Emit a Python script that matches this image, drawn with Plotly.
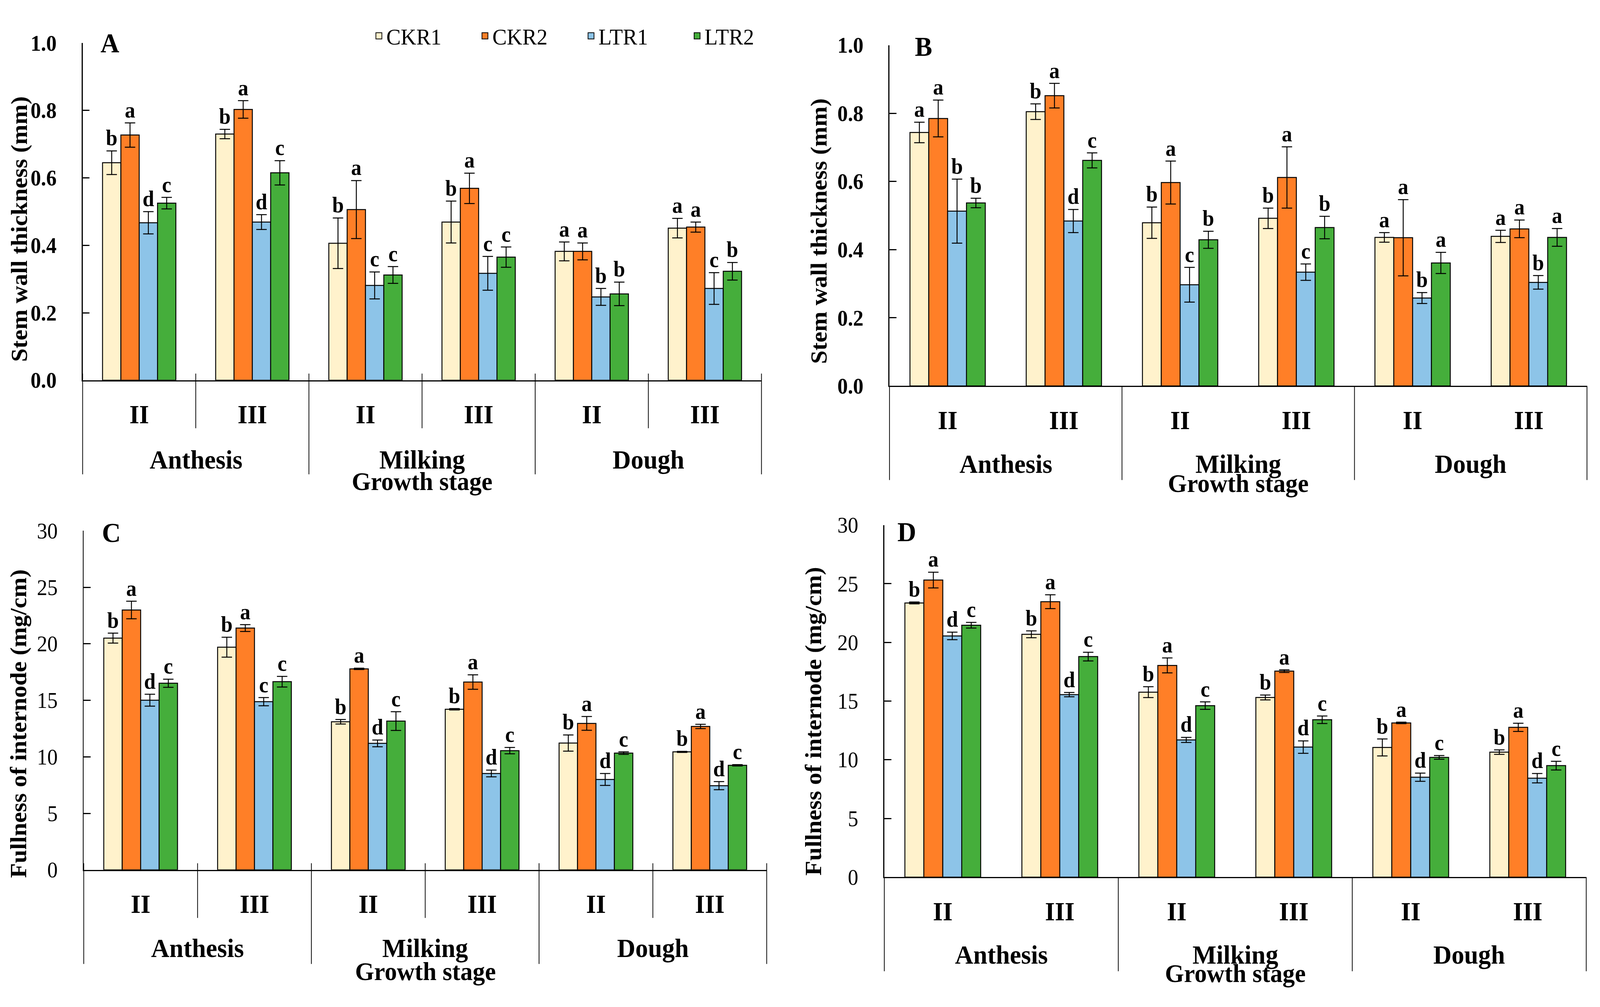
import plotly.graph_objects as go
from plotly.subplots import make_subplots

# ---- data -------------------------------------------------------------
stages = ["Anthesis", "Milking", "Dough"]
internodes = ["II", "III"]
categories = [f"{s} {i}" for s in stages for i in internodes]
tick_text = [i for s in stages for i in internodes]
treatments = ["CKR1", "CKR2", "LTR1", "LTR2"]

# A: stem wall thickness (mm)
a_mean = {
    "CKR1": [0.645, 0.730, 0.406, 0.469, 0.382, 0.451],
    "CKR2": [0.727, 0.803, 0.506, 0.569, 0.382, 0.454],
    "LTR1": [0.467, 0.469, 0.281, 0.317, 0.247, 0.272],
    "LTR2": [0.525, 0.615, 0.312, 0.365, 0.256, 0.323],
}
a_err = {
    "CKR1": [0.035, 0.014, 0.075, 0.062, 0.028, 0.029],
    "CKR2": [0.036, 0.026, 0.086, 0.045, 0.025, 0.015],
    "LTR1": [0.033, 0.022, 0.040, 0.050, 0.025, 0.047],
    "LTR2": [0.017, 0.036, 0.025, 0.030, 0.035, 0.026],
}
a_letters = {
    "CKR1": ["b", "b", "b", "b", "a", "a"],
    "CKR2": ["a", "a", "a", "a", "a", "a"],
    "LTR1": ["d", "d", "c", "c", "b", "c"],
    "LTR2": ["c", "c", "c", "c", "b", "b"],
}

# B: stem wall thickness (mm)
b_mean = {
    "CKR1": [0.744, 0.805, 0.479, 0.492, 0.436, 0.439],
    "CKR2": [0.785, 0.852, 0.597, 0.612, 0.435, 0.461],
    "LTR1": [0.513, 0.484, 0.297, 0.334, 0.258, 0.304],
    "LTR2": [0.537, 0.662, 0.429, 0.465, 0.361, 0.436],
}
b_err = {
    "CKR1": [0.030, 0.023, 0.046, 0.030, 0.014, 0.018],
    "CKR2": [0.054, 0.036, 0.063, 0.090, 0.112, 0.026],
    "LTR1": [0.094, 0.034, 0.051, 0.024, 0.016, 0.020],
    "LTR2": [0.014, 0.022, 0.025, 0.033, 0.031, 0.026],
}
b_letters = {
    "CKR1": ["a", "b", "b", "b", "a", "a"],
    "CKR2": ["a", "a", "a", "a", "a", "a"],
    "LTR1": ["b", "d", "c", "c", "b", "b"],
    "LTR2": ["b", "c", "b", "b", "a", "a"],
}

# C: fullness of internode (mg/cm)
c_mean = {
    "CKR1": [20.50, 19.70, 13.10, 14.21, 11.22, 10.44],
    "CKR2": [22.99, 21.39, 17.78, 16.62, 12.96, 12.69],
    "LTR1": [15.01, 14.88, 11.19, 8.53, 8.00, 7.45],
    "LTR2": [16.51, 16.65, 13.16, 10.55, 10.33, 9.25],
}
c_err = {
    "CKR1": [0.44, 0.88, 0.20, 0.06, 0.72, 0.05],
    "CKR2": [0.78, 0.30, 0.06, 0.64, 0.61, 0.19],
    "LTR1": [0.53, 0.36, 0.30, 0.30, 0.53, 0.36],
    "LTR2": [0.36, 0.47, 0.83, 0.28, 0.11, 0.06],
}
c_letters = {
    "CKR1": ["b", "b", "b", "b", "b", "b"],
    "CKR2": ["a", "a", "a", "a", "a", "a"],
    "LTR1": ["d", "c", "d", "d", "d", "d"],
    "LTR2": ["c", "c", "c", "c", "c", "c"],
}

# D: fullness of internode (mg/cm)
d_mean = {
    "CKR1": [23.36, 20.69, 15.76, 15.31, 11.05, 10.65],
    "CKR2": [25.31, 23.47, 18.04, 17.55, 13.14, 12.76],
    "LTR1": [20.55, 15.55, 11.69, 11.08, 8.51, 8.43],
    "LTR2": [21.46, 18.79, 14.61, 13.41, 10.20, 9.50],
}
d_err = {
    "CKR1": [0.08, 0.29, 0.46, 0.21, 0.72, 0.19],
    "CKR2": [0.67, 0.59, 0.64, 0.11, 0.06, 0.35],
    "LTR1": [0.32, 0.18, 0.22, 0.53, 0.35, 0.40],
    "LTR2": [0.24, 0.37, 0.32, 0.32, 0.16, 0.37],
}
d_letters = {
    "CKR1": ["b", "b", "b", "b", "b", "b"],
    "CKR2": ["a", "a", "a", "a", "a", "a"],
    "LTR1": ["d", "d", "d", "d", "d", "d"],
    "LTR2": ["c", "c", "c", "c", "c", "c"],
}

# ---- style ------------------------------------------------------------
colors = {"CKR1": "#FFF2CC", "CKR2": "#FF7F27", "LTR1": "#8DC4E8", "LTR2": "#45AE3B"}
FONT = "Liberation Serif"
W, H = 4299, 2579

panels = [
    dict(tag="A", mean=a_mean, err=a_err, letters=a_letters,
         title="Stem wall thickness (mm)", yrange=[0, 1.0], dtick=0.2, fmt=".1f",
         px=(222, 2046), py=(82, 967), inner=True, tickbold=True,
         tag_shift=(73, 0), title_shift=(-170, -45), growth=-259, stage=-203),
    dict(tag="B", mean=b_mean, err=b_err, letters=b_letters,
         title="Stem wall thickness (mm)", yrange=[0, 1.0], dtick=0.2, fmt=".1f",
         px=(2390, 4264), py=(88, 982), inner=False, tickbold=True,
         tag_shift=(91, -4), title_shift=(-190, -40), growth=-249, stage=-200),
    dict(tag="C", mean=c_mean, err=c_err, letters=c_letters,
         title="Fullness of internode (mg/cm)", yrange=[0, 30], dtick=5, fmt="d",
         px=(225, 2060), py=(1362, 2252), inner=True, tickbold=False,
         tag_shift=(74, -5), title_shift=(-175, -60), growth=-260, stage=-200),
    dict(tag="D", mean=d_mean, err=d_err, letters=d_letters,
         title="Fullness of internode (mg/cm)", yrange=[0, 30], dtick=5, fmt="d",
         px=(2376, 4262), py=(1347, 2271), inner=False, tickbold=False,
         tag_shift=(60, -18), title_shift=(-190, -52), growth=-246, stage=-199),
]

fig = make_subplots(rows=2, cols=2)
shapes, annotations = [], []

for n, p in enumerate(panels):
    row, col = n // 2 + 1, n % 2 + 1
    sfx = "" if n == 0 else str(n + 1)
    for t in treatments:
        fig.add_trace(go.Bar(
            x=categories, y=p["mean"][t], name=t, offsetgroup=t, showlegend=False,
            marker=dict(color=colors[t], line=dict(color="black", width=2.5)),
            error_y=dict(type="data", array=p["err"][t], color="black",
                         thickness=2.5, width=14),
        ), row=row, col=col)
        tops = [m + e for m, e in zip(p["mean"][t], p["err"][t])]
        fig.add_trace(go.Scatter(
            x=categories, y=tops, mode="text", text=p["letters"][t],
            textposition="top center", offsetgroup=t, showlegend=False,
            cliponaxis=False, hoverinfo="skip",
            textfont=dict(family=FONT, size=56, color="black", weight="bold"),
        ), row=row, col=col)

    x0, x1 = p["px"]
    ytop, ybot = p["py"]
    fig.update_xaxes(
        domain=[x0 / W, x1 / W], type="category", range=[-0.5, 5.5],
        showline=True, linecolor="black", linewidth=3, ticks="",
        tickmode="array", tickvals=categories, ticktext=tick_text,
        tickfont=dict(family=FONT, size=68, color="black", weight="bold"),
        ticklabelstandoff=26, showgrid=False, zeroline=False,
        row=row, col=col)
    fig.update_yaxes(
        domain=[1 - ybot / H, 1 - ytop / H], range=p["yrange"], dtick=p["dtick"],
        tickformat=p["fmt"], showline=True, linecolor="black", linewidth=2.5,
        ticks="inside", ticklen=19, tickwidth=2.5, tickcolor="black",
        tickfont=dict(family=FONT, size=56, color="black",
                      weight="bold" if p["tickbold"] else "normal"),
        ticklabelstandoff=56, showgrid=False, zeroline=False,
        row=row, col=col)

    xd, yd = f"x{sfx} domain", f"y{sfx} domain"
    # divider lines below the category axis
    for k in range(7):
        outer = k % 2 == 0
        if not outer and not p["inner"]:
            continue
        shapes.append(dict(
            type="line", xref=xd, yref=yd, x0=k / 6, x1=k / 6,
            ysizemode="pixel", yanchor=0,
            y0=17 if p["inner"] else 0, y1=-241 if outer else -123,
            line=dict(color="black", width=2)))

    for j, s in enumerate(stages):
        annotations.append(dict(
            text=s, xref=xd, yref=yd, x=(2 * j + 1) / 6, y=0, yshift=p["stage"],
            showarrow=False, xanchor="center", yanchor="middle",
            font=dict(family=FONT, size=68, color="black", weight="bold")))
    annotations.append(dict(
        text="Growth stage", xref=xd, yref=yd, x=0.5, y=0, yshift=p["growth"],
        showarrow=False, xanchor="center", yanchor="middle",
        font=dict(family=FONT, size=66, color="black", weight="bold")))
    annotations.append(dict(
        text=p["tag"], xref=xd, yref=yd, x=0, y=1,
        xshift=p["tag_shift"][0], yshift=p["tag_shift"][1],
        showarrow=False, xanchor="center", yanchor="middle",
        font=dict(family=FONT, size=70, color="black", weight="bold")))
    annotations.append(dict(
        text=p["title"], xref=xd, yref=yd, x=0, y=0.5,
        xshift=p["title_shift"][0], yshift=p["title_shift"][1], textangle=-90,
        showarrow=False, xanchor="center", yanchor="middle",
        font=dict(family=FONT, size=62, color="black", weight="bold")))

# legend entries (drawn once, in panel A)
for t in treatments:
    fig.add_trace(go.Scatter(
        x=[None], y=[None], mode="markers", name=t, offsetgroup=t,
        marker=dict(symbol="square", size=16, color=colors[t],
                    line=dict(color="black", width=2)),
    ), row=1, col=1)

fig.update_layout(
    width=W, height=H, margin=dict(l=0, r=0, t=0, b=0),
    paper_bgcolor="white", plot_bgcolor="white",
    barmode="group", bargap=0.352, bargroupgap=0,
    scattermode="group", scattergap=0.352,
    shapes=shapes, annotations=annotations,
    legend=dict(orientation="h", x=998 / W, y=1 - 18 / H,
                xanchor="left", yanchor="top",
                entrywidth=240, entrywidthmode="pixels", itemwidth=30,
                font=dict(family=FONT, size=58, color="black"),
                bgcolor="rgba(0,0,0,0)"),
    font=dict(family=FONT, color="black"),
)

# the browser viewport can be smaller than the figure: stretch the
# fixed-size figure so that it fills the visible page exactly
fit_js = """
document.body.style.margin = '0';
document.body.style.overflow = 'hidden';
var gd = document.getElementById('{plot_id}');
var sx = Math.min(1, window.innerWidth / %d);
var sy = Math.min(1, window.innerHeight / %d);
gd.style.transformOrigin = '0 0';
gd.style.transform = 'scale(' + sx + ',' + sy + ')';
""" % (W, H)

fig.write_html("out.html", post_script=fit_js, config={"displayModeBar": False})
